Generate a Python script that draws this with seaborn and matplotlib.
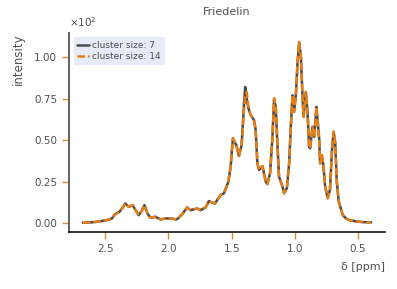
import matplotlib
matplotlib.use("Agg")
import matplotlib.pyplot as plt
import matplotlib.ticker as mticker
import seaborn as sns
import pandas as pd

ppm = [2.677, 2.619, 2.566, 2.487, 2.447, 2.421, 2.387, 2.365, 2.341, 2.315,
       2.283, 2.262, 2.236, 2.214, 2.190, 2.167, 2.143, 2.103, 2.063, 2.024,
       1.984, 1.937, 1.921, 1.891, 1.852, 1.825, 1.772, 1.746, 1.706, 1.680,
       1.659, 1.633, 1.587, 1.561, 1.526, 1.508, 1.490, 1.463, 1.442, 1.421,
       1.402, 1.393, 1.381, 1.367, 1.349, 1.323, 1.310, 1.296, 1.283, 1.256,
       1.230, 1.217, 1.196, 1.177, 1.164, 1.151, 1.137, 1.125, 1.098, 1.085,
       1.063, 1.045, 1.032, 1.018, 1.006, 0.992, 0.979, 0.966, 0.952, 0.939,
       0.931, 0.913, 0.899, 0.887, 0.879, 0.860, 0.847, 0.829, 0.820, 0.807,
       0.800, 0.794, 0.786, 0.775, 0.760, 0.740, 0.722, 0.706, 0.693, 0.680,
       0.669, 0.653, 0.621, 0.595, 0.569, 0.516, 0.460, 0.397]

cluster_7 = [0.2, 0.4, 0.8, 1.8, 2.8, 5.4, 6.8, 9.0, 11.8, 9.8,
             10.8, 8.0, 4.8, 7.0, 10.8, 6.0, 3.2, 3.8, 2.2, 2.8,
             2.8, 2.2, 3.0, 5.4, 9.4, 7.8, 8.8, 7.8, 9.4, 13.3,
             12.5, 11.8, 16.9, 17.9, 24.9, 33.9, 51.0, 47.0, 40.4, 47.0,
             72.0, 82.0, 75.0, 69.0, 65.0, 62.0, 56.0, 36.0, 32.0, 34.3,
             24.9, 23.5, 30.0, 52.0, 75.0, 70.0, 46.0, 28.0, 22.0, 18.0,
             21.0, 36.0, 58.0, 77.0, 67.0, 77.0, 96.0, 109.0, 100.0, 76.0,
             64.0, 79.0, 66.0, 46.0, 45.0, 58.0, 52.0, 70.0, 62.0, 50.0,
             36.0, 38.0, 41.0, 35.0, 22.0, 15.0, 20.0, 44.0, 55.0, 48.0,
             26.0, 13.0, 4.8, 2.8, 1.8, 1.0, 0.6, 0.4]

cluster_14 = [0.2, 0.4, 0.8, 1.8, 2.8, 5.4, 6.8, 9.0, 11.8, 9.8,
              10.8, 8.0, 4.8, 7.0, 10.8, 6.0, 3.2, 3.8, 2.2, 2.8,
              2.8, 2.2, 3.0, 5.4, 9.4, 7.8, 8.8, 7.8, 9.4, 13.3,
              12.5, 11.8, 16.9, 17.9, 24.9, 33.9, 51.0, 47.0, 40.4, 47.0,
              68.0, 76.0, 79.0, 70.0, 65.0, 62.0, 56.0, 36.0, 32.0, 34.3,
              24.9, 23.5, 30.0, 52.0, 75.0, 70.0, 46.0, 28.0, 22.0, 18.0,
              21.0, 36.0, 58.0, 77.0, 67.0, 77.0, 96.0, 109.0, 100.0, 76.0,
              64.0, 79.0, 66.0, 46.0, 45.0, 58.0, 52.0, 70.0, 62.0, 50.0,
              36.0, 38.0, 41.0, 35.0, 22.0, 15.0, 20.0, 44.0, 55.0, 48.0,
              26.0, 13.0, 4.8, 2.8, 1.8, 1.0, 0.6, 0.4]

series_labels = ["cluster size: 7", "cluster size: 14"]
x_ticks = [2.5, 2.0, 1.5, 1.0, 0.5]
y_ticks = [0, 25, 50, 75, 100]

df = pd.concat([
    pd.DataFrame({"ppm": ppm, "intensity": cluster_7, "series": series_labels[0]}),
    pd.DataFrame({"ppm": ppm, "intensity": cluster_14, "series": series_labels[1]}),
])

sns.set_theme(style="ticks")
plt.rcParams["font.family"] = ["DejaVu Sans"]

fig = plt.figure(figsize=(3.97, 2.89), dpi=100)
ax = fig.add_axes([0.174, 0.197, 0.796, 0.689])

gray = "#4a4a4a"
orange = "#e67e14"
txt = "#505050"

sns.lineplot(data=df[df.series == series_labels[0]], x="ppm", y="intensity",
             ax=ax, color=gray, lw=1.8, label=series_labels[0], sort=False)
sns.lineplot(data=df[df.series == series_labels[1]], x="ppm", y="intensity",
             ax=ax, color=orange, lw=1.8, label=series_labels[1], sort=False,
             dashes=False)
ax.lines[1].set_dashes([3.0, 1.2])

ax.set_xlim(2.786, 0.286)
ax.set_ylim(-5.4, 114.5)
ax.set_xticks(x_ticks)
ax.set_yticks(y_ticks)

ax.yaxis.set_major_formatter(mticker.FuncFormatter(lambda v, p: f"{v/100:.2f}"))
ax.text(0.0, 1.02, r"$\times\mathregular{10^{2}}$", transform=ax.transAxes,
        fontsize=7.5, color=txt, ha="left", va="bottom")

ax.xaxis.set_major_formatter(mticker.FormatStrFormatter("%.1f"))

sns.despine(ax=ax)
ax.spines["left"].set_color("#666666")
ax.spines["left"].set_linewidth(1.5)
ax.spines["bottom"].set_color("#111111")
ax.spines["bottom"].set_linewidth(1.2)
ax.tick_params(axis="both", colors="#e08a3a", labelcolor=txt,
               labelsize=7.5, length=5, width=1, direction="out")

ax.set_title("Friedelin", fontsize=8, color=txt, pad=13)
ax.set_ylabel("intensity", fontsize=8.5, color=txt, labelpad=7, loc="top")
ax.set_xlabel("δ [ppm]", fontsize=8, color=txt, loc="right", labelpad=6)

leg = ax.legend(loc="upper left", fontsize=6.5, frameon=True, handlelength=1.3,
                handletextpad=0.3, borderpad=0.4, labelspacing=0.2,
                bbox_to_anchor=(0.0, 1.0))
leg.get_frame().set_facecolor("#e6ebf7")
leg.get_frame().set_edgecolor("#e6ebf7")
leg.get_frame().set_alpha(1.0)
for t in leg.get_texts():
    t.set_color(txt)

fig.savefig("out.png", dpi=100)
